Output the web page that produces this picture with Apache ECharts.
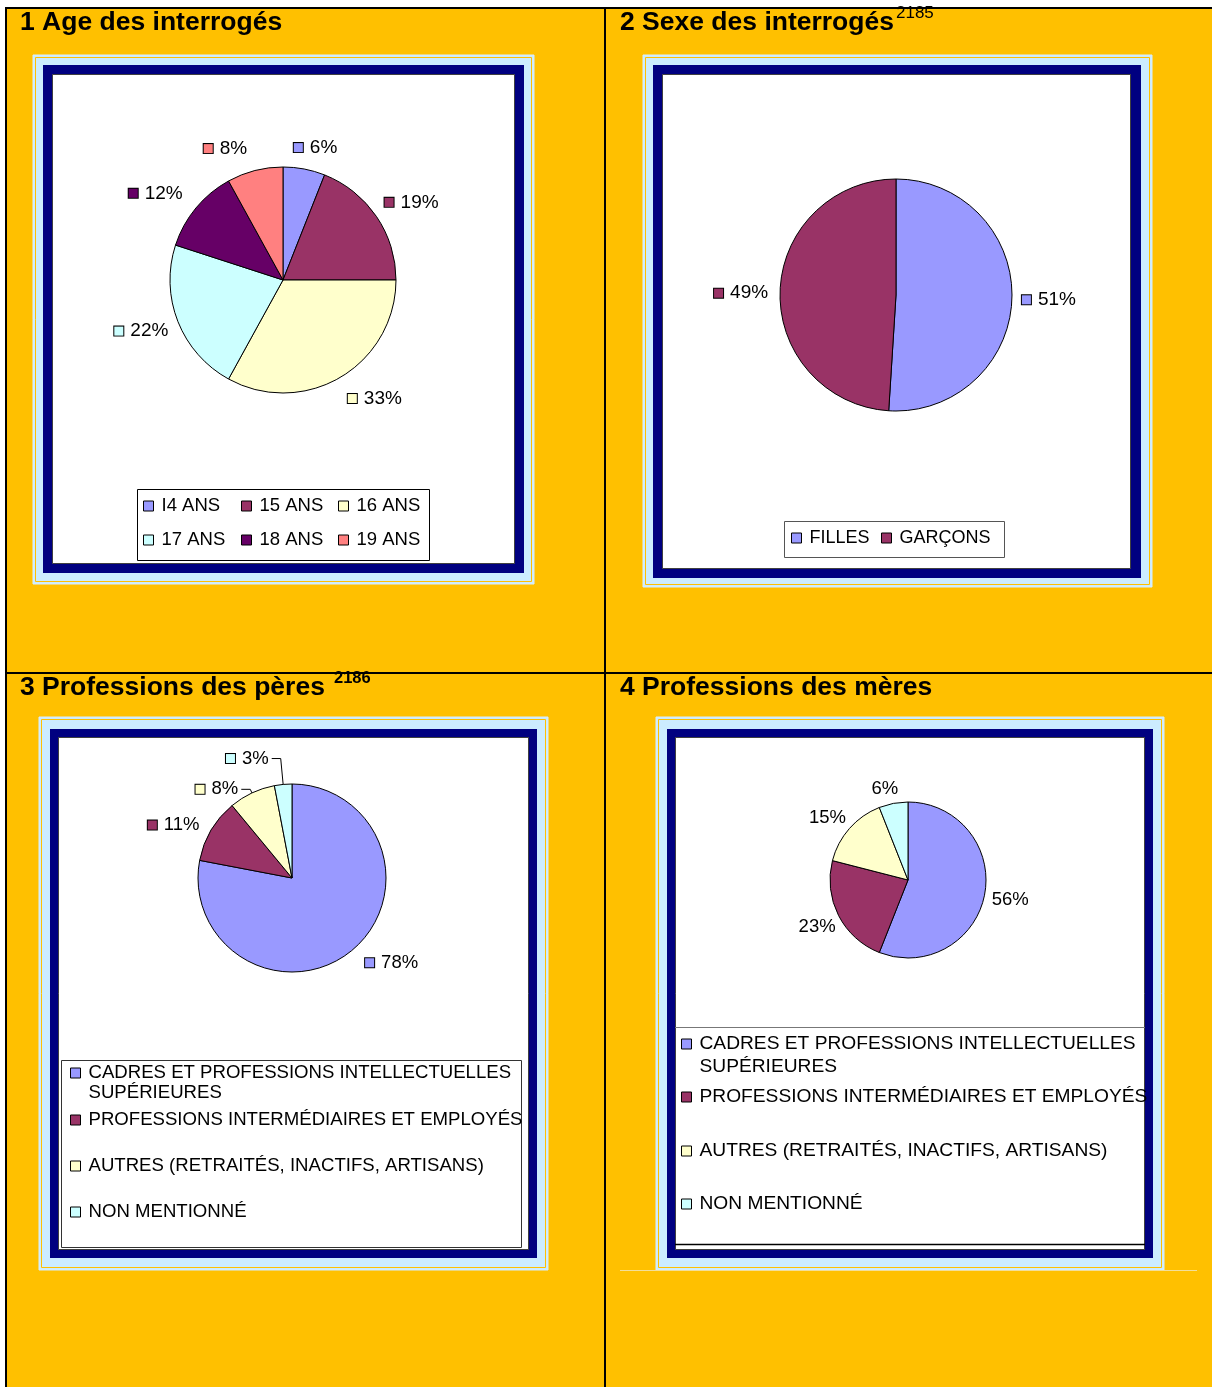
<!DOCTYPE html>
<html><head><meta charset="utf-8">
<script src="https://cdn.jsdelivr.net/npm/echarts@6/dist/echarts.min.js"></script>
<style>html,body{margin:0;padding:0;background:#fff;} #c{width:1212px;height:1387px;}</style>
</head><body><div id="c"></div>
<script>
// ---------- data ----------
const titles = ['1 Age des interrogés', '2 Sexe des interrogés', '3 Professions des pères', '4 Professions des mères'];
const footnotes = ['2185', '2186'];
const ageCategories = ['I4 ANS', '15 ANS', '16 ANS', '17 ANS', '18 ANS', '19 ANS'];
const ageValues = [6, 19, 33, 22, 12, 8];
const sexCategories = ['FILLES', 'GARÇONS'];
const sexValues = [51, 49];
const professionCategories = ['CADRES ET PROFESSIONS INTELLECTUELLES SUPÉRIEURES', 'PROFESSIONS INTERMÉDIAIRES ET EMPLOYÉS', 'AUTRES (RETRAITÉS, INACTIFS, ARTISANS)', 'NON MENTIONNÉ'];
const fatherValues = [78, 11, 8, 3];
const motherValues = [56, 23, 15, 6];

// ---------- styles ----------
const ageColors = ['#9999FF', '#993366', '#FFFFCC', '#CCFFFF', '#660066', '#FF8080'];
const sexColors = ['#9999FF', '#993366'];
const professionColors = ['#9999FF', '#993366', '#FFFFCC', '#CCFFFF'];
const FONT = 'Arial, "Liberation Sans", sans-serif';
const ORANGE = '#FFC000';
// label nudges (Excel places pie labels by box edge, not by radius)
const ageLabelNudge = [[5, 12], [7, 5], [17, -8], [-5, -3], [-14, 7], [-21, 11]];
const sexLabelNudge = [[0, 0], [-2, 3]];
const motherLabelNudge = [[2, 1], [0, 1], [-4, 5], [-4, 9]];

const chart = echarts.init(document.getElementById('c'), null, {renderer: 'canvas', width: 1212, height: 1387});

function rect(x0, y0, x1, y1, style) { return {type: 'rect', shape: {x: x0, y: y0, width: x1 - x0, height: y1 - y0}, style: style, silent: true}; }
function line(x1, y1, x2, y2, stroke, w) { return {type: 'line', shape: {x1: x1, y1: y1, x2: x2, y2: y2}, style: {stroke: stroke, lineWidth: w}, silent: true}; }
function text(str, x, y, size, weight) { return {type: 'text', x: x, y: y, style: {text: str, fontSize: size, fontWeight: weight, fontFamily: FONT, fill: '#000', verticalAlign: 'middle'}, silent: true}; }

const frames = [
  {outer: [33, 55, 534, 584], navy: [43, 65, 524, 573], white: [52, 74, 515, 564]},
  {outer: [643, 55, 1152, 587], navy: [653, 65, 1141, 578], white: [662, 74, 1131, 569]},
  {outer: [39, 717, 548, 1270], navy: [50, 729, 537, 1258], white: [58, 737, 529, 1250]},
  {outer: [656, 717, 1164, 1270], navy: [667, 729, 1153, 1258], white: [675, 737, 1145, 1250]}
];

const elements = [];
elements.push(rect(5, 7, 1212, 1387, {fill: ORANGE}));
frames.forEach(f => {
  const o = f.outer, n = f.navy, w = f.white;
  elements.push(rect(o[0], o[1], o[2], o[3], {fill: '#CCECFF', stroke: '#D8EEFF', lineWidth: 1}));
  elements.push(rect(o[0] + 2.5, o[1] + 2.5, o[2] - 2.5, o[3] - 2.5, {fill: null, stroke: ORANGE, lineWidth: 1}));
  elements.push(rect(n[0], n[1], n[2], n[3], {fill: '#000080'}));
  elements.push(rect(w[0] + 0.5, w[1] + 0.5, w[2] - 0.5, w[3] - 0.5, {fill: '#fff', stroke: '#404040', lineWidth: 1}));
});
// legend boxes
elements.push(rect(137.5, 489.5, 429.5, 560.5, {fill: '#fff', stroke: '#000', lineWidth: 1}));
elements.push(rect(784.5, 521.5, 1004.5, 557.5, {fill: '#fff', stroke: '#555', lineWidth: 1}));
elements.push(rect(61.5, 1060.5, 521.5, 1247.5, {fill: '#fff', stroke: '#333', lineWidth: 1}));
elements.push(line(675, 1027.5, 1145, 1027.5, '#777', 1));
elements.push(line(675, 1244.5, 1145, 1244.5, '#000', 1.5));
elements.push(line(620, 1270.5, 1197, 1270.5, '#F3DF9A', 1));
// grid lines
elements.push(line(5, 8, 1212, 8, '#000', 2));
elements.push(line(6, 7, 6, 1387, '#000', 2));
elements.push(line(605, 7, 605, 1387, '#000', 2));
elements.push(line(5, 673, 1212, 673, '#000', 2));
// titles
elements.push(text(titles[0], 20, 23, 26.5, 'bold'));
elements.push(text(titles[1], 620, 23, 26.5, 'bold'));
elements.push(text(titles[2], 20, 688, 26.5, 'bold'));
elements.push(text(titles[3], 620, 688, 26.5, 'bold'));
elements.push(text(footnotes[0], 896, 13, 17, 'normal'));
elements.push(text(footnotes[1], 334, 678, 16.5, 'bold'));

function markerRich(colors, size) {
  const rich = {t: {fontSize: size, fontFamily: FONT, color: '#000', padding: [0, 0, 0, 7]}};
  colors.forEach((c, i) => { rich['m' + i] = {width: 9, height: 9, backgroundColor: c, borderColor: '#000', borderWidth: 1}; });
  return rich;
}
function realPie(names, values, colors, center, r, extra) {
  return Object.assign({
    type: 'pie', center: center, radius: r, startAngle: 90, clockwise: true,
    silent: true, animation: false, avoidLabelOverlap: false,
    itemStyle: {borderColor: '#000', borderWidth: 1},
    label: {show: false}, labelLine: {show: false},
    emphasis: {disabled: true},
    data: names.map((n, i) => ({name: n, value: values[i], itemStyle: {color: colors[i]}}))
  }, extra || {});
}
function labelRing(names, values, colors, center, dist, withMarker, size, nudge) {
  return {
    type: 'pie', center: center, radius: [dist - 13, dist + 7], startAngle: 90, clockwise: true,
    silent: true, animation: false, avoidLabelOverlap: false,
    itemStyle: {color: 'rgba(0,0,0,0)', borderWidth: 0},
    emphasis: {disabled: true},
    labelLine: {show: false},
    label: {
      show: true, position: 'inside', rotate: 0,
      fontSize: size, fontFamily: FONT, color: '#000',
      formatter: p => withMarker ? ('{m' + p.dataIndex + '|}{t|' + p.value + '%}') : (p.value + '%'),
      rich: markerRich(colors, size)
    },
    labelLayout: p => ({dx: nudge[p.dataIndex][0], dy: nudge[p.dataIndex][1]}),
    data: names.map((n, i) => ({name: n, value: values[i]}))
  };
}

// panel 3 outside labels with leader lines for the small slices
const fatherLabelLines = [
  {show: false, length: 16, length2: 0},
  {show: false, length: 10, length2: 0},
  {show: true, length: 4, length2: 9},
  {show: true, length: 26, length2: 9}
];
const fatherPie = realPie(professionCategories, fatherValues, professionColors, [292, 878], 94, {
  label: {
    show: true, position: 'outside', fontSize: 18.5, fontFamily: FONT, color: '#000',
    distanceToLabelLine: 3,
    formatter: p => '{m' + p.dataIndex + '|}{t|' + p.value + '%}',
    rich: markerRich(professionColors, 18.5)
  },
  labelLine: {show: false, lineStyle: {color: '#000', width: 1}}
});
fatherPie.data.forEach((d, i) => { d.labelLine = fatherLabelLines[i]; });

const series = [
  realPie(ageCategories, ageValues, ageColors, [283, 280], 113),
  realPie(sexCategories, sexValues, sexColors, [896, 295], 116),
  fatherPie,
  realPie(professionCategories, motherValues, professionColors, [908, 880], 78),
  labelRing(ageCategories, ageValues, ageColors, [283, 280], 147, true, 19, ageLabelNudge),
  labelRing(sexCategories, sexValues, sexColors, [896, 295], 153, true, 19, sexLabelNudge),
  labelRing(professionCategories, motherValues, professionColors, [908, 880], 102, false, 18.5, motherLabelNudge)
];

// legends: one component per entry so each sits where the original puts it
function legendItem(name, x, yc, size, lh, wrapped) {
  return {
    data: [name], left: x, top: wrapped ? yc - 1.5 * lh : yc - lh / 2,
    orient: 'horizontal', padding: 0, itemGap: 0, itemWidth: 10, itemHeight: 10,
    icon: 'rect', selectedMode: false,
    itemStyle: {borderColor: '#000', borderWidth: 1},
    textStyle: {fontSize: size, fontFamily: FONT, color: '#000', lineHeight: lh,
      rich: {t: {fontSize: size, fontFamily: FONT, color: '#000', lineHeight: lh, padding: [0, 0, 0, 3]}}},
    formatter: n => wrapped
      ? '{t| }\n{t|' + n.replace(/ (\S+)$/, '}\n{t|$1') + '}'
      : '{t|' + n + '}'
  };
}
const legends = [];
const ageCols = [143, 241, 338], ageRows = [506, 540];
ageCategories.forEach((n, i) => legends.push(legendItem(n, ageCols[i % 3], ageRows[Math.floor(i / 3)], 18.5, 20, false)));
const sexCols = [791, 881];
sexCategories.forEach((n, i) => legends.push(legendItem(n, sexCols[i], 538, 18, 20, false)));
const fatherRows = [1073, 1120, 1166, 1212];
professionCategories.forEach((n, i) => legends.push(legendItem(n, 70, fatherRows[i], 18.6, 20, i === 0)));
const motherRows = [1044, 1097, 1151, 1204];
professionCategories.forEach((n, i) => legends.push(legendItem(n, 681, motherRows[i], 19.2, 23, i === 0)));

chart.setOption({
  backgroundColor: '#fff',
  animation: false,
  graphic: {elements: elements},
  legend: legends,
  series: series
});
</script>
</body></html>
